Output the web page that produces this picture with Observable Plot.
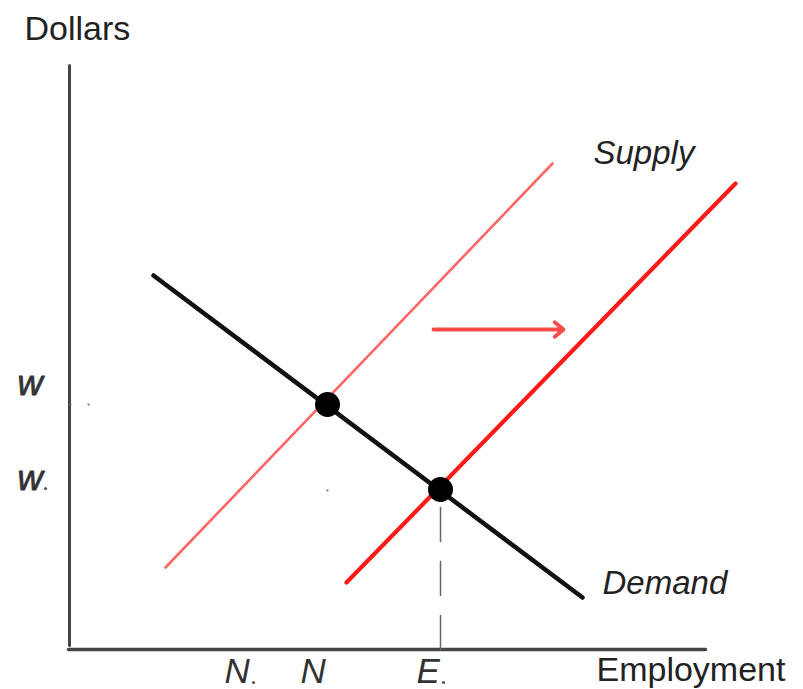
<!DOCTYPE html>
<html>
<head>
<meta charset="utf-8">
<script src="https://cdn.jsdelivr.net/npm/d3@7"></script>
<script src="https://cdn.jsdelivr.net/npm/@observablehq/plot@0.6"></script>
<style>
  html, body { margin: 0; padding: 0; background: #fff; }
  svg { display: block; }
</style>
</head>
<body>
<div id="chart"></div>
<script>
// Abstract units: Employment (x) and Dollars (y)
const supplyOld = [{x: 9.6, y: 8.2}, {x: 48.3, y: 48.6}];
const supplyNew = [{x: 27.7, y: 6.7}, {x: 66.6, y: 46.6}];
const demand = [{x: 8.4, y: 37.4}, {x: 51.3, y: 5.2}];
const equilibria = [{x: 25.8, y: 24.5}, {x: 37.1, y: 16.0}];
const shiftArrow = [{x1: 36.4, y1: 32.0, x2: 49.4, y2: 32.0}];
const dropLine = [{x: 37.1, y: 0}, {x: 37.1, y: 16.0}];
const yAxisLine = [{x: 0, y: 0.4}, {x: 0, y: 58.4}];
const xAxisLine = [{x: -0.1, y: 0}, {x: 63.6, y: 0}];
const guideSpecks = [{x: 1.9, y: 24.5}, {x: 16.9, y: 15.9}, {x: 25.8, y: 15.9}, {x: 0.1, y: 24.5}];
const yTickLabels = [{label: "w", x: -5.2, y: 25.5}, {label: "w", x: -5.2, y: 16.0}];
const xTickLabels = [{label: "N", x: 15.5, y: -3.3}, {label: "N", x: 23.1, y: -3.3}, {label: "E", x: 34.7, y: -3.3}];
const subscriptDots = [{x: -2.4, y: 16.1}, {x: 18.4, y: -3.3}, {x: 37.4, y: -3.3}];
const axisTitles = [{label: "Dollars", x: -4.5, y: 61.0}, {label: "Employment", x: 52.7, y: -3.1}];
const curveLabels = [{label: "Supply", x: 52.4, y: 48.6}, {label: "Demand", x: 53.3, y: 5.6}];

const font = "'Liberation Sans', Arial, sans-serif";

const chart = Plot.plot({
  width: 803,
  height: 689,
  margin: 0,
  style: {fontFamily: font, background: "#fff", overflow: "visible"},
  x: {domain: [-6.9, 73.4], axis: null},
  y: {domain: [-4.0, 64.9], axis: null},
  marks: [
    Plot.line(yAxisLine, {x: "x", y: "y", stroke: "#444", strokeWidth: 3}),
    Plot.line(xAxisLine, {x: "x", y: "y", stroke: "#444", strokeWidth: 3.5}),
    Plot.line(dropLine, {x: "x", y: "y", stroke: "#666", strokeWidth: 1.5, strokeDasharray: "34,20"}),
    Plot.dot(guideSpecks, {x: "x", y: "y", r: 1.1, fill: "#666", stroke: "none"}),
    Plot.line(supplyOld, {x: "x", y: "y", stroke: "#ff6666", strokeWidth: 2.6}),
    Plot.line(supplyNew, {x: "x", y: "y", stroke: "#ff1a1a", strokeWidth: 4.2, strokeLinecap: "round"}),
    Plot.line(demand, {x: "x", y: "y", stroke: "#111", strokeWidth: 4.5, strokeLinecap: "round"}),
    Plot.arrow(shiftArrow, {x1: "x1", y1: "y1", x2: "x2", y2: "y2", stroke: "#ff4a4a", strokeWidth: 3.8, headLength: 4.5, headAngle: 80}),
    Plot.dot(equilibria, {x: "x", y: "y", r: 12.5, fill: "#000", stroke: "none"}),
    Plot.text(axisTitles, {x: "x", y: "y", text: "label", textAnchor: "start", lineAnchor: "bottom", fontSize: 34, fill: "#222"}),
    Plot.text(curveLabels, {x: "x", y: "y", text: "label", textAnchor: "start", lineAnchor: "bottom", fontSize: 33, fontStyle: "italic", fill: "#222"}),
    Plot.text(yTickLabels, {x: "x", y: "y", text: "label", textAnchor: "start", lineAnchor: "bottom", fontSize: 35, fontStyle: "italic", fill: "#333", stroke: "#333", strokeWidth: 0.8}),
    Plot.text(xTickLabels, {x: "x", y: "y", text: "label", textAnchor: "start", lineAnchor: "bottom", fontSize: 35, fontStyle: "italic", fill: "#333"}),
    Plot.dot(subscriptDots, {x: "x", y: "y", r: 1.6, fill: "#555", stroke: "none"})
  ]
});
document.getElementById("chart").appendChild(chart);
</script>
</body>
</html>
